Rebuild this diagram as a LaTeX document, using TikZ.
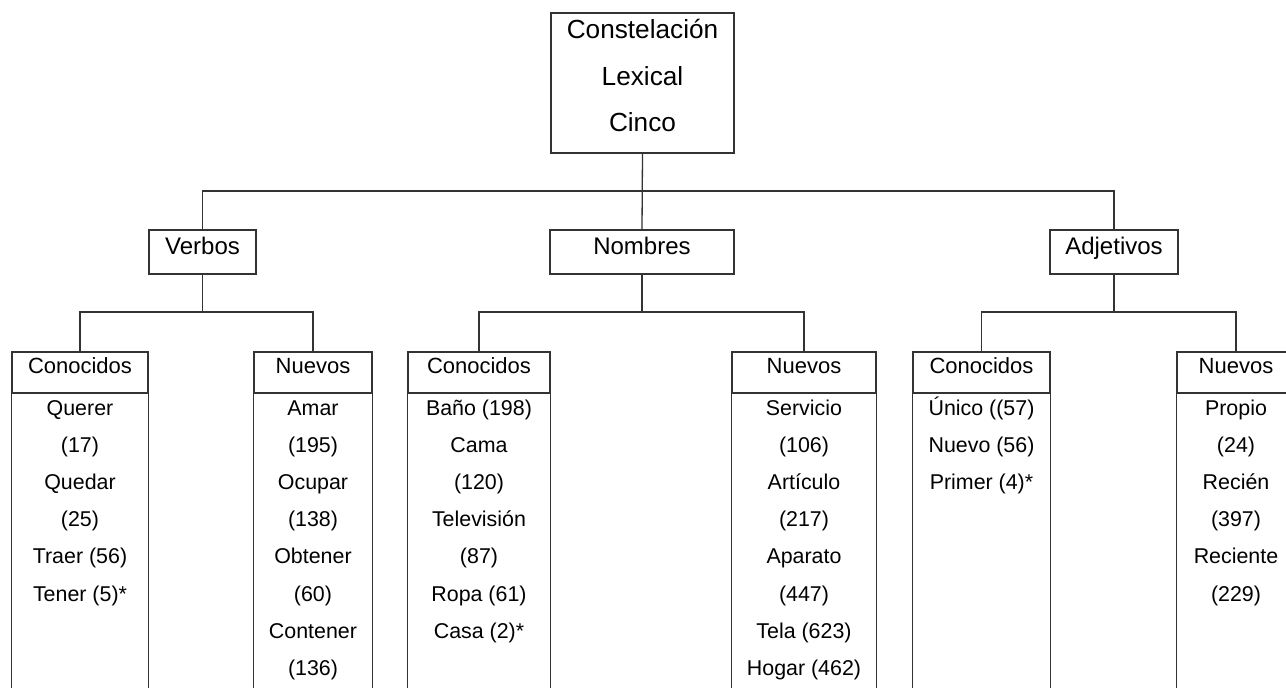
\documentclass[tikz,border=0pt]{standalone}
\usepackage{fontspec}
\setmainfont{Liberation Sans}
\begin{document}
\begin{tikzpicture}[x=1pt,y=-1pt,
  line/.style={draw=black!80, line width=1.3pt},
  box/.style={line, rectangle, inner sep=0pt},
  topbox/.style={box, minimum width=183pt, minimum height=140pt, align=center,
    font=\fontsize{26.2}{46.5}\selectfont, text depth=15pt},
  catbox/.style={box, minimum height=44pt, font=\fontsize{24}{28}\selectfont,
    text height=18pt, text depth=14pt},
  headbox/.style={box, minimum height=41pt, font=\fontsize{22}{25}\selectfont,
    text height=16pt, text depth=13.6pt},
  items/.style={inner sep=0pt, align=center, anchor=north,
    font=\fontsize{21.4}{37.1}\selectfont},
]
\useasboundingbox (0,0) rectangle (1286,688);
\clip (0,0) rectangle (1286,688);

\coordinate (floor) at (0,720);
\coordinate (r1) at (0,191);
\coordinate (r2) at (0,312);

% root
\node[topbox] (top) at (642.5,83) {Constelación\\Lexical\\Cinco};

% word classes
\node[catbox, minimum width=107pt] (verb) at (202.5,252) {Verbos};
\node[catbox, minimum width=184pt] (nom)  at (642,252)   {Nombres};
\node[catbox, minimum width=128pt] (adj)  at (1114,252)  {Adjetivos};

% column headers
\node[headbox, minimum width=136pt] (vc) at (80,372.5)   {Conocidos};
\node[headbox, minimum width=118pt] (vn) at (313,372.5)  {Nuevos};
\node[headbox, minimum width=142pt] (nc) at (479,372.5)  {Conocidos};
\node[headbox, minimum width=144pt] (nn) at (804,372.5)  {Nuevos};
\node[headbox, minimum width=137pt] (ac) at (981.5,372.5){Conocidos};
\node[headbox, minimum width=118pt] (an) at (1236,372.5) {Nuevos};

% column bodies
\foreach \c in {vc,vn,nc,nn,ac,an}
  \draw[line] (\c.south west) rectangle (\c.south east |- floor);

% word lists
\node[items] (vcl) at ([yshift=4.3pt]vc.south) {\strut Querer\\(17)\\Quedar\\(25)\\Traer (56)\\Tener (5)*};
\node[items] (vnl) at ([yshift=4.3pt]vn.south) {\strut Amar\\(195)\\Ocupar\\(138)\\Obtener\\(60)\\Contener\\(136)};
\node[items] (ncl) at ([yshift=4.3pt]nc.south) {\strut Baño (198)\\Cama\\(120)\\Televisión\\(87)\\Ropa (61)\\Casa (2)*};
\node[items] (nnl) at ([yshift=4.3pt]nn.south) {\strut Servicio\\(106)\\Artículo\\(217)\\Aparato\\(447)\\Tela (623)\\Hogar (462)};
\node[items] (acl) at ([yshift=4.3pt]ac.south) {\strut Único ((57)\\Nuevo (56)\\Primer (4)*};
\node[items] (anl) at ([yshift=4.3pt]an.south) {\strut Propio\\(24)\\Recién\\(397)\\Reciente\\(229)};

% connectors
\draw[line] (top.south) -- (nom.north);
\draw[line] (verb.north) |- (top.south |- r1) -| (adj.north);

\draw[line] (verb.south) -- (verb.south |- r2);
\draw[line] (vc.north) |- (verb.south |- r2) -| (vn.north);
\draw[line] (nom.south) -- (nom.south |- r2);
\draw[line] (nc.north) |- (nom.south |- r2) -| (nn.north);
\draw[line] (adj.south) -- (adj.south |- r2);
\draw[line] (ac.north) |- (adj.south |- r2) -| (an.north);
\end{tikzpicture}
\end{document}
